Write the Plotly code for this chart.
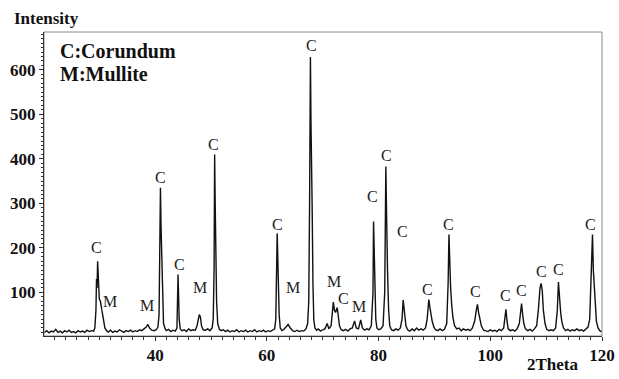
import plotly.graph_objects as go

# XRD trace (2theta in degrees, intensity in counts)
two_theta = [
    20.2, 20.6, 21.0, 21.4, 21.8, 22.2, 22.6, 23.0, 23.4, 23.8, 24.2, 24.6, 25.0, 25.4, 25.8, 26.2,
    26.6, 27.0, 27.4, 27.8, 28.2, 28.6, 29.0,
    29.2, 29.4, 29.5, 29.6, 29.7, 29.8, 29.9, 30.0, 30.2, 30.4, 30.6, 30.8, 31.0, 31.3,
    31.6, 32.0, 32.4, 32.8, 33.2, 33.6, 34.0, 34.4, 34.8, 35.2, 35.6, 36.0, 36.4, 36.8, 37.2, 37.6,
    38.0, 38.4, 38.7, 39.0, 39.4, 39.8, 40.2, 40.5,
    40.7, 40.85, 40.95, 41.05, 41.15, 41.3, 41.5, 41.8,
    42.0, 42.4, 42.8, 43.2, 43.6, 43.9,
    44.0, 44.1, 44.2, 44.3, 44.5,
    44.8, 45.2, 45.6, 46.0, 46.4, 46.8, 47.2, 47.5, 47.7, 47.9, 48.1, 48.3, 48.6, 49.0, 49.4, 49.8,
    50.2, 50.4,
    50.55, 50.65, 50.75, 50.85, 51.0, 51.2, 51.5,
    51.8, 52.2, 52.6, 53.0, 53.4, 53.8, 54.2, 54.6, 55.0, 55.4, 55.8, 56.2, 56.6, 57.0, 57.4, 57.8,
    58.2, 58.6, 59.0, 59.4, 59.8, 60.2, 60.6, 61.0, 61.4, 61.6,
    61.75, 61.85, 61.95, 62.05, 62.2, 62.4,
    62.7, 63.0, 63.4, 63.8, 64.2, 64.6, 65.0, 65.4, 65.8, 66.2, 66.6, 67.0, 67.3, 67.5,
    67.65, 67.8, 67.9, 68.0, 68.1, 68.25, 68.4, 68.6,
    68.9, 69.2, 69.6, 70.0, 70.4, 70.8, 71.1, 71.5, 71.7, 71.9, 72.1, 72.3, 72.6, 72.8, 73.0, 73.3,
    73.7, 74.1, 74.5, 74.9, 75.3, 75.7, 76.0, 76.4, 76.8, 77.1, 77.5, 77.9, 78.3, 78.7, 79.0,
    79.1, 79.2, 79.35, 79.5, 79.7,
    80.0, 80.4, 80.8, 81.1, 81.3, 81.4, 81.5, 81.6, 81.8, 82.0, 82.3,
    82.7, 83.1, 83.5, 83.9, 84.2, 84.4, 84.55, 84.7, 84.9, 85.2, 85.6, 86.0, 86.4, 86.8, 87.2, 87.6,
    88.0, 88.4, 88.7, 88.9, 89.0, 89.2, 89.4, 89.6, 89.9, 90.2, 90.6, 91.0, 91.4, 91.8,
    92.2, 92.45, 92.6, 92.75, 92.9, 93.1, 93.3, 93.6, 94.0, 94.4, 94.8, 95.2, 95.6, 96.0, 96.4, 96.8,
    97.2, 97.5, 97.7, 97.9, 98.1, 98.4, 98.8, 99.2, 99.6, 100.0, 100.4, 100.8, 101.2, 101.6, 102.0,
    102.4, 102.6, 102.8, 103.0, 103.2, 103.6, 104.0, 104.4, 104.8,
    105.2, 105.45, 105.6, 105.8, 106.0, 106.3, 106.7, 107.1, 107.5, 107.9,
    108.3, 108.6, 108.9, 109.1, 109.3, 109.5, 109.8, 110.1, 110.5, 110.9, 111.3, 111.7,
    112.0, 112.2, 112.4, 112.6, 112.8, 113.1, 113.5, 113.9, 114.3, 114.7, 115.1, 115.5, 115.9,
    116.3, 116.7, 117.1, 117.5, 117.8,
    118.0, 118.2, 118.3, 118.45, 118.6, 118.8, 119.0, 119.3, 119.6, 119.9,
]
intensity = [
    10, 14, 9, 13, 11, 17, 10, 13, 9, 14, 11, 15, 10, 12, 9, 14,
    11, 13, 10, 15, 12, 14, 13,
    20, 60, 130, 110, 170, 120, 95, 85, 80, 62, 45, 30, 20, 14,
    11, 15, 10, 13, 11, 16, 12, 10, 14, 12, 15, 11, 14, 12, 16, 14,
    18, 22, 28, 20, 15, 14, 16, 22,
    50, 200, 335, 250, 180, 80, 30, 18,
    14, 17, 12, 15, 13, 20,
    60, 140, 90, 40, 18,
    14, 16, 12, 18, 14, 16, 15, 25, 42, 50, 45, 25, 16, 15, 18, 14,
    20, 40,
    150, 410, 300, 200, 80, 30, 17,
    14, 16, 12, 15, 11, 14, 12, 16, 11, 14, 12, 15, 11, 14, 12, 16,
    11, 14, 12, 15, 11, 14, 12, 15, 18, 40,
    130, 234, 180, 120, 50, 20,
    14, 16, 22, 28, 20, 14, 12, 15, 12, 14, 13, 18, 30, 80,
    300, 629, 480, 420, 300, 120, 40, 20,
    15, 18, 13, 16, 18, 30, 18, 25, 50, 78, 60, 55, 66, 40, 25, 16,
    14, 17, 13, 18, 20, 36, 20, 18, 38, 20, 15, 18, 16, 25, 100,
    259, 200, 120, 40, 20,
    16, 18, 25, 100, 383, 300, 200, 150, 60, 25, 16,
    14, 18, 15, 20, 40, 83, 60, 40, 25, 16, 13, 18, 14, 20, 15, 18,
    15, 20, 40, 70, 84, 65, 45, 35, 22, 16, 14, 18, 14, 17,
    30, 120, 230, 130, 110, 70, 45, 25, 18, 20, 14, 18, 15, 17, 14, 20,
    35, 60, 73, 55, 40, 25, 15, 14, 12, 16, 13, 15, 12, 17, 14,
    20, 40, 62, 35, 18, 14, 16, 13, 18,
    30, 60, 75, 50, 30, 18, 14, 17, 13, 18,
    25, 60, 110, 120, 105, 60, 30, 17, 14, 16, 14, 20,
    60, 123, 80, 55, 35, 20, 14, 17, 13, 16, 14, 18, 14,
    16, 13, 18, 22, 40,
    110, 170, 230, 150, 110, 60, 35, 20, 14, 12,
]

# Phase labels above the peaks
label_x = [29.5, 32.0, 38.5, 40.9, 44.3, 48.0, 50.4, 61.9, 64.6, 68.0, 72.0, 73.8, 76.5,
           79.0, 81.5, 84.2, 88.7, 92.6, 97.3, 102.7, 105.6, 109.2, 112.2, 118.0]
label_y = [201, 80, 71, 358, 163, 111, 432, 252, 111, 654, 125, 87, 69,
           315, 407, 237, 107, 252, 102, 93, 105, 147, 151, 252]
label_text = ["C", "M", "M", "C", "C", "M", "C", "C", "M", "C", "M", "C", "M",
              "C", "C", "C", "C", "C", "C", "C", "C", "C", "C", "C"]

x_ticks = [40, 60, 80, 100, 120]
y_ticks = [100, 200, 300, 400, 500, 600]

SERIF = "Liberation Serif"


def bold_font(size):
    return dict(family=SERIF, size=size, color="#111111", weight="bold")


fig = go.Figure()
fig.add_trace(go.Scatter(x=two_theta, y=intensity, mode="lines",
                         line=dict(color="#111111", width=1.4), showlegend=False,
                         hoverinfo="skip"))

for lx, ly, lt in zip(label_x, label_y, label_text):
    fig.add_annotation(x=lx, y=ly, text=lt, showarrow=False,
                       font=dict(family=SERIF, size=16, color="#222222"),
                       bgcolor="rgba(255,255,255,0.85)", borderpad=0)

fig.add_annotation(xref="paper", yref="paper", x=-0.057, y=1.046, xanchor="left", yanchor="middle",
                   text="Intensity", showarrow=False, font=bold_font(17))
fig.add_annotation(xref="paper", yref="paper", x=0.862, y=-0.095, xanchor="left", yanchor="middle",
                   text="2Theta", showarrow=False, font=bold_font(17))
fig.add_annotation(xref="paper", yref="paper", x=0.025, y=0.9375, xanchor="left", yanchor="middle",
                   text="C:Corundum", showarrow=False, font=bold_font(20))
fig.add_annotation(xref="paper", yref="paper", x=0.025, y=0.862, xanchor="left", yanchor="middle",
                   text="M:Mullite", showarrow=False, font=bold_font(20))

fig.add_shape(type="rect", xref="paper", yref="paper", x0=0, y0=0, x1=1, y1=1,
              line=dict(color="#888888", width=1), layer="below")

fig.update_layout(
    width=619, height=379,
    margin=dict(l=44, r=17, t=32, b=43),
    paper_bgcolor="white", plot_bgcolor="white",
    xaxis=dict(range=[20.1, 120.0], tickmode="array", tickvals=x_ticks,
               ticktext=[str(v) for v in x_ticks], automargin=False,
               ticks="outside", ticklen=4, tickcolor="#333333",
               minor=dict(dtick=2, tick0=0, ticks="outside", ticklen=3, tickcolor="#333333"),
               showgrid=False, zeroline=False, showline=True, linecolor="#333333", linewidth=1,
               tickfont=bold_font(17)),
    yaxis=dict(range=[2, 685], tickmode="array", tickvals=y_ticks,
               ticktext=[str(v) for v in y_ticks], automargin=False,
               ticks="outside", ticklen=4, tickcolor="#333333",
               minor=dict(dtick=10, tick0=0, ticks="outside", ticklen=2, tickcolor="#333333"),
               showgrid=False, zeroline=False, showline=True, linecolor="#333333", linewidth=1,
               tickfont=bold_font(17)),
)

fig.write_html("out.html", config={"displayModeBar": False},
               post_script="document.body.style.margin='0';")
